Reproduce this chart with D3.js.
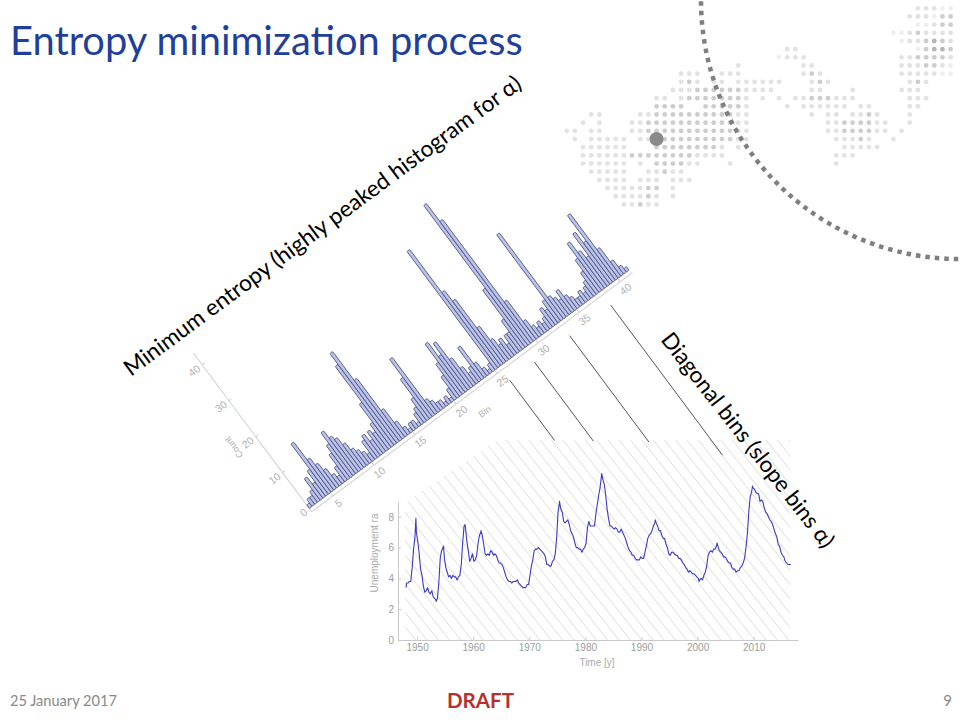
<!DOCTYPE html>
<html>
<head>
<meta charset="utf-8">
<script src="https://cdn.jsdelivr.net/npm/d3@7"></script>
<style>
  body { margin: 0; background: #fff; }
  svg { display: block; }
</style>
</head>
<body>
<svg id="slide" width="960" height="720"></svg>
<script>
// ---- data ----

// slope histogram: one count per bar, bars 1/3 bin wide starting at bin 2.4
const histBinStart = 2.4;
const histBinStep = 1 / 3;
const histCounts = [
  1, 2, 2, 3, 6, 4, 7, 14, 9, 7,
  5, 3, 2, 4, 7, 9, 12, 10, 9, 7,
  5, 4, 3, 2, 5, 6, 4, 6, 5, 7,
  12, 22, 25, 17, 8, 4, 2, 1, 2, 2,
  1, 3, 4, 6, 11, 16, 4, 3, 2, 2,
  1, 2, 1, 3, 6, 9, 14, 10, 13, 8,
  5, 3, 4, 9, 4, 2, 1, 2, 33, 21,
  18, 10, 6, 4, 5, 3, 5, 5, 8, 16,
  39, 34, 11, 5, 3, 2, 3, 2, 3, 5,
  4, 6, 24, 6, 5, 4, 6, 4, 3, 2,
  2, 3, 2, 3, 4, 6, 9, 13, 10, 8,
  14, 11, 18, 8, 4, 2, 1
];
const binTicks = [5, 10, 15, 20, 25, 30, 35, 40];
const countTicks = [0, 10, 20, 30, 40];

// bins that get a pointer line down to the time series, and the rate level where each ends
const pointerBins = [25.6, 28.6, 32.9, 37.9];
const pointerEndRates = [12.95, 12.9, 12.85, 12.0];

// US unemployment rate, quarterly from 1948 Q1
const unempStartYear = 1948;
const unempQuarterly = [
  3.7, 3.7, 3.8, 3.8,  4.7, 5.9, 6.7, 7.0,  6.4, 5.6, 4.6, 4.2,  3.5, 3.1, 3.2, 3.4,
  3.1, 3.0, 3.2, 2.8,  2.7, 2.6, 2.7, 3.7,  5.3, 5.8, 6.0, 5.3,  4.7, 4.4, 4.1, 4.2,
  4.0, 4.2, 4.1, 4.1,  3.9, 4.1, 4.2, 4.9,  6.3, 7.4, 7.3, 6.4,  5.8, 5.1, 5.3, 5.6,
  5.1, 5.2, 5.5, 6.3,  6.8, 7.0, 6.8, 6.2,  5.6, 5.5, 5.6, 5.5,  5.8, 5.7, 5.5, 5.6,
  5.5, 5.2, 5.0, 5.0,  4.9, 4.7, 4.4, 4.1,  3.9, 3.8, 3.8, 3.7,  3.8, 3.8, 3.8, 3.9,
  3.7, 3.6, 3.5, 3.4,  3.4, 3.4, 3.6, 3.6,  4.2, 4.8, 5.2, 5.8,  5.9, 5.9, 6.0, 5.9,
  5.8, 5.7, 5.6, 5.4,  4.9, 4.9, 4.8, 4.8,  5.1, 5.2, 5.6, 6.6,  8.3, 8.9, 8.5, 8.3,
  7.7, 7.6, 7.7, 7.8,  7.5, 7.1, 6.9, 6.7,  6.3, 6.0, 6.0, 5.9,  5.9, 5.7, 5.9, 6.0,
  6.3, 7.3, 7.7, 7.4,  7.4, 7.4, 7.4, 8.2,  8.8, 9.4, 9.9, 10.7, 10.4, 10.1, 9.4, 8.5,
  7.9, 7.4, 7.4, 7.3,  7.2, 7.3, 7.2, 7.0,  7.0, 7.2, 7.0, 6.8,  6.6, 6.3, 6.0, 5.8,
  5.7, 5.5, 5.5, 5.3,  5.2, 5.2, 5.2, 5.4,  5.3, 5.3, 5.7, 6.1,  6.6, 6.8, 6.9, 7.1,
  7.4, 7.6, 7.6, 7.4,  7.1, 7.1, 6.8, 6.6,  6.6, 6.2, 6.0, 5.6,  5.5, 5.7, 5.7, 5.6,
  5.5, 5.5, 5.3, 5.3,  5.2, 5.0, 4.9, 4.7,  4.6, 4.4, 4.5, 4.4,  4.3, 4.3, 4.2, 4.1,
  4.0, 3.9, 4.0, 3.9,  4.2, 4.4, 4.8, 5.5,  5.7, 5.8, 5.7, 5.9,  5.9, 6.1, 6.1, 5.8,
  5.7, 5.6, 5.4, 5.4,  5.3, 5.1, 5.0, 5.0,  4.7, 4.6, 4.6, 4.4,  4.5, 4.5, 4.7, 4.8,
  5.0, 5.3, 6.0, 6.9,  8.3, 9.3, 9.6, 9.9,  9.8, 9.6, 9.5, 9.5,  9.0, 9.1, 9.0, 8.6,
  8.3, 8.2, 8.0, 7.8,  7.7, 7.5, 7.2, 6.9,  6.7, 6.2, 6.1, 5.7,  5.5, 5.4, 5.1, 5.0,
  4.9, 4.9, 4.9
];
// single months that stick out of the quarterly averages
const unempMonthly = [
  [1948.04, 3.4], [1949.79, 7.9], [1953.38, 2.5], [1954.71, 6.1], [1958.54, 7.5],
  [1961.38, 7.1], [1968.88, 3.4], [1975.38, 9.0], [1982.92, 10.8], [1992.46, 7.8],
  [2000.29, 3.8], [2003.46, 6.3], [2009.79, 10.0]
];
const yearTicks = [1950, 1960, 1970, 1980, 1990, 2000, 2010];
const rateTicks = [0, 2, 4, 6, 8];

// hatched "diagonal bins" area, corners in (year, rate)
const hatchArea = [[1947.85, 8.9], [1964.25, 13.0], [2016.5, 13.0], [2016.5, 0], [1947.85, 0]];

// dotted world map decoration: per row, [first column, shade digits]
const mapRows = [
  [[43, "22211"]],
  [[42, "222133"]],
  [[43, "11233"]],
  [[40, "11232222"]],
  [[41, "1223432"]],
  [[27, "22"], [43, "13443"]],
  [[26, "1222"], [41, "2233332"]],
  [[21, "2"], [29, "22"], [41, "2223321"]],
  [[14, "222"], [19, "222"], [29, "232"], [41, "2222211"]],
  [[14, "232"], [18, "22"], [21, "222222"], [30, "232"], [42, "232"]],
  [[13, "2223333332222"], [30, "22"], [35, "2"], [41, "222"]],
  [[11, "22"], [14, "233333332"], [24, "2"], [26, "2"], [28, "22333222"], [42, "222"]],
  [[11, "3333"], [17, "333332"], [27, "2"], [29, "222222"], [36, "22"], [42, "22"]],
  [[3, "22"], [9, "22333333333322"], [30, "2"], [32, "22"], [35, "2232"], [42, "2"]],
  [[2, "2"], [4, "2"], [8, "223333333333322"], [32, "22333322"], [42, "2"]],
  [[0, "22"], [3, "22"], [8, "223333333333322"], [32, "22333322"], [41, "2"]],
  [[1, "2"], [3, "22222"], [9, "22"], [12, "333333333"], [21, "22"], [33, "22232"], [40, "2"]],
  [[2, "222222"], [11, "333333332"], [21, "2"], [34, "22222"]],
  [[2, "2222"], [6, "22333333332222"], [33, "222"]],
  [[2, "222222"], [9, "2"], [11, "333322"], [20, "2"], [33, "2"]],
  [[3, "22222"], [10, "22322"]],
  [[4, "2222"], [9, "222"], [13, "222"]],
  [[5, "2222233"], [13, "2"]],
  [[6, "222232"], [13, "2"]],
  [[7, "22322"]]
];
const mapMarker = [11, 16];

// ---- drawing ----
const svg = d3.select("#slide");
const calibri = "Lato, 'Open Sans', sans-serif";
const mathFont = "'Liberation Sans', Arial, sans-serif";

function fitWidth(sel, w) {
  const len = sel.node().getComputedTextLength();
  sel.attr("font-size", parseFloat(sel.attr("font-size")) * w / len);
  return sel;
}

// map dots
const shade = { "1": "#efefef", "2": "#e2e2e2", "3": "#cdcdcd", "4": "#b5b5b5" };
const mx = d3.scaleLinear().domain([0, 47]).range([566.7, 950.6]);
const my = d3.scaleLinear().domain([0, 24]).range([8.3, 204.4]);
const dots = [];
mapRows.forEach((segs, r) => {
  segs.forEach(([k0, s]) => {
    s.split("").forEach((ch, j) => dots.push({ r: r, k: k0 + j, ch: ch }));
  });
});
svg.append("g")
  .selectAll("circle")
  .data(dots)
  .join("circle")
  .attr("cx", (d) => mx(d.k))
  .attr("cy", (d) => my(d.r))
  .attr("r", 2.4)
  .attr("fill", (d) => shade[d.ch]);

svg.append("circle")
  .attr("cx", mx(mapMarker[0]))
  .attr("cy", my(mapMarker[1]))
  .attr("r", 7)
  .attr("fill", "#8a8a8a");

svg.append("circle")
  .attr("cx", 960)
  .attr("cy", 0)
  .attr("r", 259)
  .attr("fill", "none")
  .attr("stroke", "#7f7f7f")
  .attr("stroke-width", 4.5)
  .attr("stroke-dasharray", "4.5 5");

// title
fitWidth(
  svg.append("text")
    .attr("x", 10)
    .attr("y", 55)
    .attr("font-family", calibri)
    .attr("font-size", 40)
    .attr("fill", "#1f3f9a")
    .text("Entropy minimization process"),
  513
);

// ---- time series ----
const lx = d3.scaleLinear().domain([1946.6, 2017.9]).range([398, 798]);
const ly = d3.scaleLinear().domain([0, 9]).range([640, 501.4]);

const clip = svg.append("clipPath").attr("id", "hatchClip");
clip.append("polygon")
  .attr("points", hatchArea.map(([t, v]) => [lx(t), ly(v)].join(",")).join(" "));

const hatchDir = [0.62, 0.785];
const hatchTop = ly(13.0), hatchBottom = ly(0);
const hatchLen = (hatchBottom - hatchTop) / hatchDir[1];
svg.append("g")
  .attr("clip-path", "url(#hatchClip)")
  .selectAll("line")
  .data(d3.range(lx(1947.85) - hatchLen * hatchDir[0] - 12, lx(2016.5) + 12, 11.3))
  .join("line")
  .attr("x1", (x0) => x0)
  .attr("y1", hatchTop)
  .attr("x2", (x0) => x0 + hatchLen * hatchDir[0])
  .attr("y2", hatchBottom)
  .attr("stroke", "#d4d4d4")
  .attr("stroke-width", 0.8);

const xAxis = svg.append("g")
  .attr("transform", `translate(0,${ly(0)})`)
  .call(d3.axisBottom(lx).tickValues(yearTicks).tickFormat(d3.format("d"))
    .tickSizeInner(-3).tickSizeOuter(0).tickPadding(4));
const yAxis = svg.append("g")
  .attr("transform", `translate(${lx(1946.6)},0)`)
  .call(d3.axisLeft(ly).tickValues(rateTicks).tickSizeInner(-3).tickSizeOuter(0).tickPadding(4));
[xAxis, yAxis].forEach((a) => {
  a.select(".domain").attr("stroke", "#c8c8c8");
  a.selectAll(".tick line").attr("stroke", "#c8c8c8");
  a.selectAll(".tick text")
    .attr("fill", "#9c9c9c")
    .attr("font-family", mathFont)
    .attr("font-size", 10);
});

svg.append("text")
  .attr("x", 597)
  .attr("y", 665.5)
  .attr("text-anchor", "middle")
  .attr("font-family", mathFont)
  .attr("font-size", 10)
  .attr("fill", "#a8a8a8")
  .text("Time [y]");

svg.append("text")
  .attr("transform", "translate(378,553) rotate(-90)")
  .attr("text-anchor", "middle")
  .attr("font-family", mathFont)
  .attr("font-size", 10)
  .attr("fill", "#a8a8a8")
  .text("Unemployment ra");

const series = unempQuarterly
  .map((v, i) => [unempStartYear + i / 4 + 1 / 8, v])
  .concat(unempMonthly)
  .sort((a, b) => a[0] - b[0]);

svg.append("path")
  .datum(series)
  .attr("fill", "none")
  .attr("stroke", "#3a3ac4")
  .attr("stroke-width", 1.1)
  .attr("stroke-linejoin", "round")
  .attr("d", d3.line().x((d) => lx(d[0])).y((d) => ly(d[1])));

// ---- rotated histogram ----
const histOrigin = [311.7, 511.7];
const histAngle = -36.7;
const hx = d3.scaleLinear().domain([2.4, 41.5]).range([0, 400]);
const hy = d3.scaleLinear().domain([-0.9, 43.3]).range([0, -198]);

const hg = svg.append("g")
  .attr("transform", `translate(${histOrigin}) rotate(${histAngle})`);

hg.append("line")
  .attr("x1", 0).attr("y1", 0)
  .attr("x2", hx.range()[1]).attr("y2", 0)
  .attr("stroke", "#cfcfcf");
hg.append("line")
  .attr("x1", 0).attr("y1", 0)
  .attr("x2", 0).attr("y2", hy.range()[1])
  .attr("stroke", "#cfcfcf");

hg.selectAll(".btick")
  .data(binTicks)
  .join("line")
  .attr("x1", (d) => hx(d)).attr("x2", (d) => hx(d))
  .attr("y1", 0).attr("y2", -3)
  .attr("stroke", "#cfcfcf");
hg.selectAll(".ctick")
  .data(countTicks)
  .join("line")
  .attr("x1", 0).attr("x2", 3)
  .attr("y1", (d) => hy(d)).attr("y2", (d) => hy(d))
  .attr("stroke", "#cfcfcf");

hg.selectAll(".bar")
  .data(histCounts)
  .join("rect")
  .attr("x", (d, i) => hx(histBinStart + i * histBinStep))
  .attr("width", hx(histBinStart + histBinStep) - hx(histBinStart))
  .attr("y", (d) => hy(d))
  .attr("height", (d) => hy(0) - hy(d))
  .attr("rx", 1.2)
  .attr("fill", "#bcc3ea")
  .attr("stroke", "#3f4775")
  .attr("stroke-width", 0.75);

hg.selectAll(".blabel")
  .data(binTicks)
  .join("text")
  .attr("x", (d) => hx(d))
  .attr("y", 9)
  .attr("dy", "0.35em")
  .attr("text-anchor", "middle")
  .attr("font-family", mathFont)
  .attr("font-size", 10.5)
  .attr("fill", "#b0b0b0")
  .text((d) => d);
hg.selectAll(".clabel")
  .data(countTicks)
  .join("text")
  .attr("x", -4)
  .attr("y", (d) => hy(d))
  .attr("dy", "0.35em")
  .attr("text-anchor", "end")
  .attr("font-family", mathFont)
  .attr("font-size", 10.5)
  .attr("fill", "#b0b0b0")
  .text((d) => d);
hg.append("text")
  .attr("x", hx(21.8))
  .attr("y", 23)
  .attr("dy", "0.35em")
  .attr("text-anchor", "middle")
  .attr("font-family", mathFont)
  .attr("font-size", 9)
  .attr("fill", "#b0b0b0")
  .text("Bin");
hg.append("text")
  .attr("transform", `translate(-24,${hy(21)}) rotate(-90)`)
  .attr("dy", "0.35em")
  .attr("text-anchor", "middle")
  .attr("font-family", mathFont)
  .attr("font-size", 9)
  .attr("fill", "#b0b0b0")
  .text("Count");

// pointer lines from bins to the hatched diagonals
const rad = (histAngle * Math.PI) / 180;
function histToScreen(x, y) {
  return [
    histOrigin[0] + x * Math.cos(rad) - y * Math.sin(rad),
    histOrigin[1] + x * Math.sin(rad) + y * Math.cos(rad)
  ];
}
const barDir = [-Math.sin(rad), Math.cos(rad)];
const pointers = pointerBins.map((b, i) => {
  const p0 = histToScreen(hx(b), 13);
  const yEnd = ly(pointerEndRates[i]);
  const t = (yEnd - p0[1]) / barDir[1];
  return [p0, [p0[0] + t * barDir[0], yEnd]];
});
svg.append("g")
  .selectAll("line")
  .data(pointers)
  .join("line")
  .attr("x1", (d) => d[0][0]).attr("y1", (d) => d[0][1])
  .attr("x2", (d) => d[1][0]).attr("y2", (d) => d[1][1])
  .attr("stroke", "#555")
  .attr("stroke-width", 1);

// slide annotations
fitWidth(
  svg.append("text")
    .attr("transform", "translate(131,377) rotate(-36.5)")
    .attr("font-family", calibri)
    .attr("font-size", 22)
    .attr("fill", "#000")
    .text("Minimum entropy (highly peaked histogram for α)"),
  488
);
fitWidth(
  svg.append("text")
    .attr("transform", "translate(660,340) rotate(52)")
    .attr("font-family", calibri)
    .attr("font-size", 22)
    .attr("fill", "#000")
    .text("Diagonal bins (slope bins α)"),
  266
);

// footer
fitWidth(
  svg.append("text")
    .attr("x", 10)
    .attr("y", 706)
    .attr("font-family", calibri)
    .attr("font-size", 15)
    .attr("fill", "#898989")
    .text("25 January 2017"),
  107
);
fitWidth(
  svg.append("text")
    .attr("x", 480.5)
    .attr("y", 708)
    .attr("text-anchor", "middle")
    .attr("font-family", calibri)
    .attr("font-weight", "bold")
    .attr("font-size", 24)
    .attr("fill", "#b8302d")
    .text("DRAFT"),
  67
);
svg.append("text")
  .attr("x", 952)
  .attr("y", 706)
  .attr("text-anchor", "end")
  .attr("font-family", calibri)
  .attr("font-size", 15)
  .attr("fill", "#898989")
  .text("9");
</script>
</body>
</html>
